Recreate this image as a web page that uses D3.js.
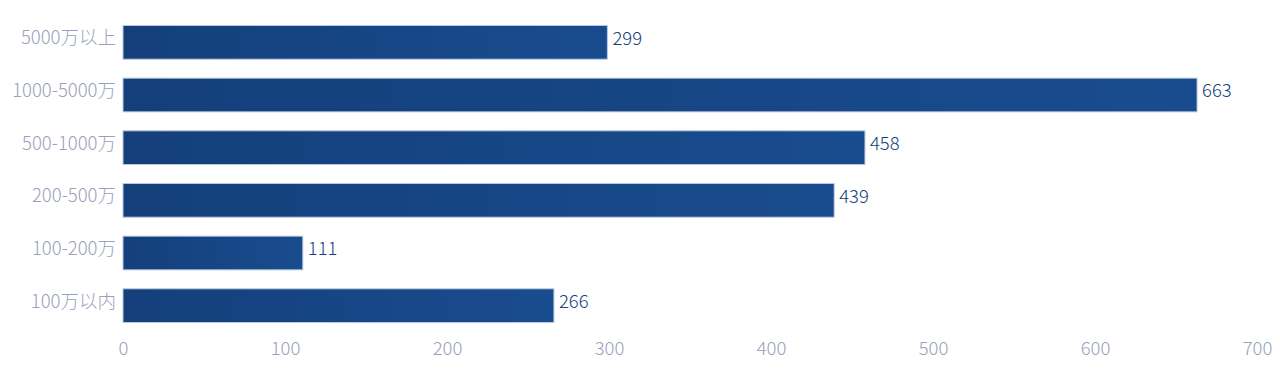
<!DOCTYPE html>
<html><head><meta charset="utf-8">
<script src="https://cdn.jsdelivr.net/npm/d3@7"></script>
<style>
html,body{margin:0;padding:0;background:#fff;}
svg{display:block;font-family:"Noto Sans CJK SC","Noto Sans",sans-serif;}
</style></head>
<body><svg id="c" width="1280" height="382"></svg>
<script>
const categories = ["5000万以上","1000-5000万","500-1000万","200-500万","100-200万","100万以内"];
const values = [299, 663, 458, 439, 111, 266];
const xTicks = [0,100,200,300,400,500,600,700];

const svg = d3.select("#c");
const m = {left:123, right:23, top:16, bottom:50};
const W = 1280, H = 382;
const x = d3.scaleLinear().domain([0,700]).range([m.left, W - m.right]);
const y = d3.scaleBand().domain(categories).range([m.top, H - m.bottom]).paddingInner(0.36).paddingOuter(0.18);

const defs = svg.append("defs");
const g = defs.append("linearGradient").attr("id","bg").attr("x1","0%").attr("x2","100%").attr("y1","0").attr("y2","0");
g.append("stop").attr("offset","0%").attr("stop-color","#143f7b");
g.append("stop").attr("offset","100%").attr("stop-color","#194c8e");

svg.append("g").selectAll("rect").data(values).join("rect")
  .attr("x", x(0))
  .attr("y", (d,i) => y(categories[i]))
  .attr("width", d => x(d) - x(0))
  .attr("height", y.bandwidth())
  .attr("fill","url(#bg)")
  .attr("stroke","#b9c9e2").attr("stroke-width",1);

svg.append("g").selectAll("text").data(values).join("text")
  .attr("x", d => x(d) + 5)
  .attr("y", (d,i) => y(categories[i]) + y.bandwidth()/2 - 4)
  .attr("dy","0.35em")
  .attr("fill","#163f7a").attr("font-size",18.5).attr("font-weight",300)
  .text(d => d);

const ya = d3.axisLeft(y).tickSize(0).tickPadding(7);
svg.append("g").attr("transform",`translate(${m.left},-4)`).call(ya)
  .call(s => s.select(".domain").remove())
  .selectAll("text").attr("fill","#99a1bb").attr("font-size",18.5).attr("font-weight",300)
  .attr("font-family","'Noto Sans CJK SC','Noto Sans',sans-serif");

const xa = d3.axisBottom(x).tickValues(xTicks).tickSize(0).tickPadding(10);
svg.append("g").attr("transform",`translate(0,${H - m.bottom})`).call(xa)
  .call(s => s.select(".domain").remove())
  .selectAll("text").attr("fill","#99a1bb").attr("font-size",18.5).attr("font-weight",300)
  .attr("font-family","'Noto Sans CJK SC','Noto Sans',sans-serif");
</script></body></html>
